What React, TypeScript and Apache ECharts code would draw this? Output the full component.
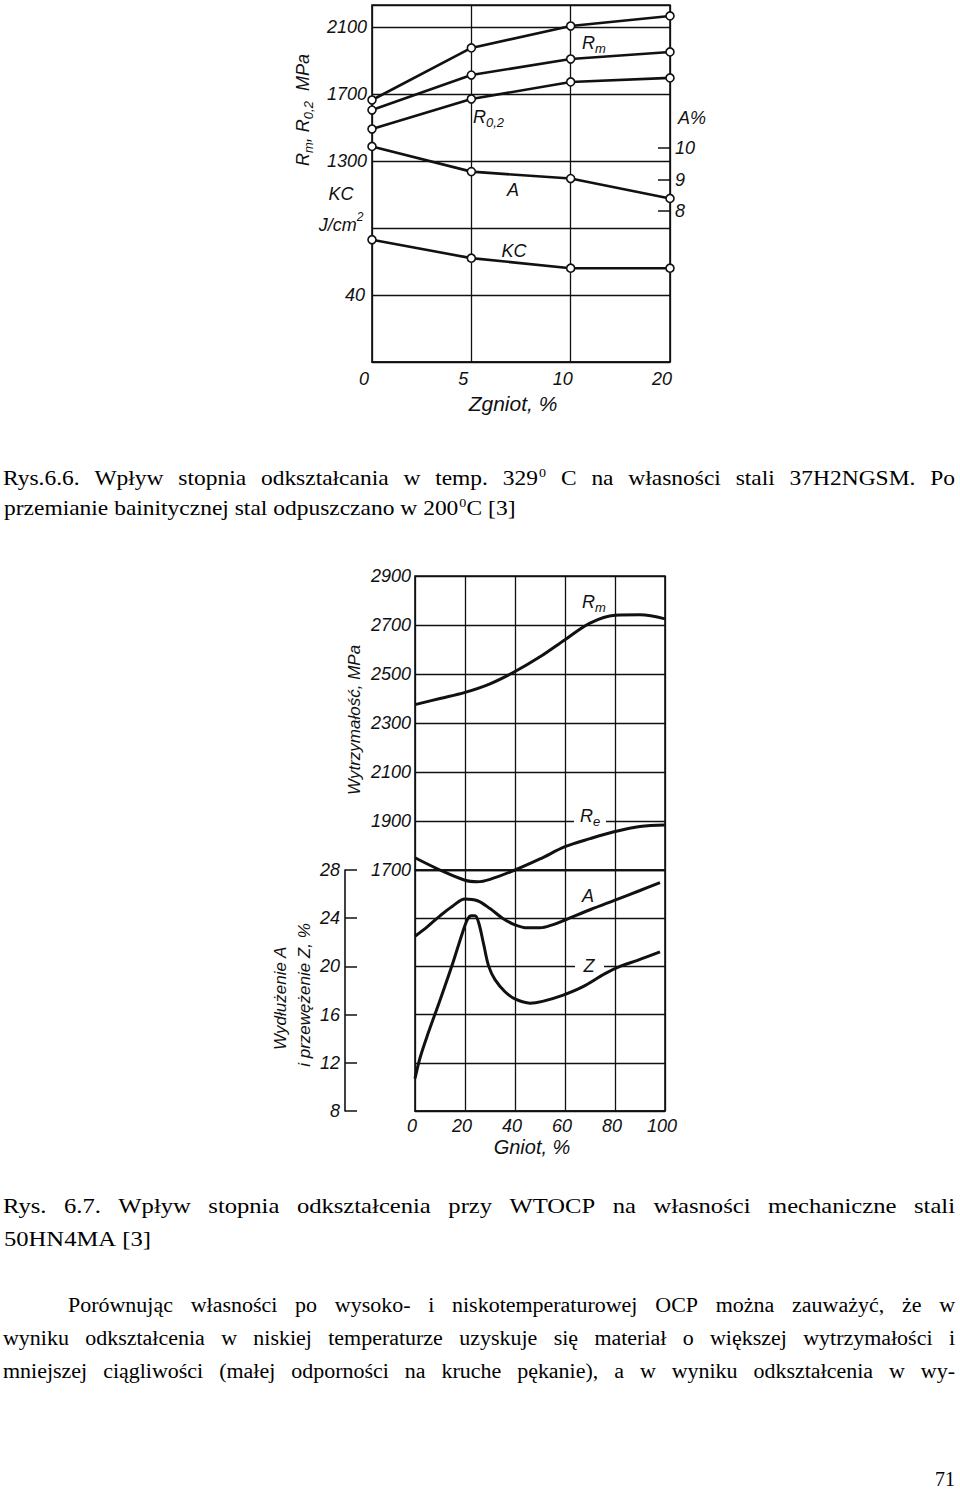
import { useEffect, useRef } from "react";
import * as echarts from "echarts";

// ---------- Rys. 6.6 (top chart) ----------
const TOP_X = ["0", "5", "10", "20"];
const TOP_RM = [1664, 1975, 2106, 2166];
const TOP_RM2 = [1604, 1813, 1909, 1951];
const TOP_R02 = [1491, 1670, 1772, 1796];
const TOP_A = [10.05, 9.25, 9.03, 8.4];
const TOP_KC = [73, 62, 56, 56];
const TOP_MPA_TICKS = [1300, 1700, 2100];
const TOP_KC_TICKS = [40];

// ---------- Rys. 6.7 (bottom chart) ----------
const BOT_RM_X = [0, 10, 20, 30, 40, 50, 60, 70, 80, 90, 100];
const BOT_RM = [2375, 2400, 2425, 2460, 2510, 2570, 2640, 2708, 2740, 2742, 2725];
const BOT_RE_X = [0, 10, 20, 25, 30, 40, 50, 60, 70, 80, 90, 100];
const BOT_RE = [1750, 1700, 1658, 1652, 1662, 1700, 1745, 1795, 1828, 1857, 1878, 1884];
const BOT_A_X = [0, 5, 10, 15, 20, 25, 30, 35, 40, 45, 50, 55, 60, 70, 80, 90, 98];
const BOT_A = [22.5, 23.3, 24.2, 25.0, 25.6, 25.45, 24.8, 24.0, 23.45, 23.2, 23.2, 23.45, 23.85, 24.7, 25.5, 26.3, 26.95];
const BOT_Z_X = [0, 2, 5, 10, 15, 19, 21, 22.5, 24, 25.5, 27.5, 29.5, 32, 36, 40, 46, 51, 59, 67, 76, 82, 89, 98];
const BOT_Z = [10.7, 12.4, 14.3, 17.2, 20.2, 22.8, 23.9, 24.2, 24.2, 23.6, 21.8, 20.0, 18.9, 17.9, 17.3, 16.95, 17.1, 17.6, 18.3, 19.4, 20.0, 20.5, 21.2];

// ---------- page text ----------
const CAPTION1 = [
  "Rys.6.6. Wpływ stopnia odkształcania w temp. 329^0 C na własności stali 37H2NGSM. Po",
  "przemianie bainitycznej stal odpuszczano w 200^0C [3]",
];
const CAPTION2 = [
  "Rys. 6.7. Wpływ stopnia odkształcenia przy WTOCP na własności mechaniczne stali",
  "50HN4MA [3]",
];
const BODY = [
  "Porównując  własności po wysoko- i niskotemperaturowej OCP można zauważyć, że w",
  "wyniku odkształcenia w niskiej temperaturze uzyskuje się materiał o większej wytrzymałości i",
  "mniejszej ciągliwości (małej odporności na kruche pękanie), a w wyniku odkształcenia w wy-",
];
const PAGE_NO = "71";

const INK = "#111";
const SANS = "Liberation Sans";
const SERIF = "Liberation Serif";

let ctx: CanvasRenderingContext2D | null = null;
function mw(t: string, font: string) {
  if (!ctx) ctx = document.createElement("canvas").getContext("2d");
  ctx!.font = font;
  return ctx!.measureText(t).width;
}

function serifText(x: number, y: number, text: string, size: number, scale: number, align = "left") {
  return {
    type: "text",
    x,
    y,
    scaleX: scale,
    z: 100,
    style: { text, fontFamily: SERIF, fontSize: size, fill: "#000", align, verticalAlign: "middle" },
  };
}

function textLine(line: string, x0: number, x1: number, base: number, size: number, scale: number, justify: boolean) {
  const font = `${size}px "${SERIF}"`;
  const supSize = Math.round(size * 0.62);
  const supFont = `${supSize}px "${SERIF}"`;
  const toks = line
    .split(" ")
    .filter((w) => w.length > 0)
    .map((w) => {
      const m = w.match(/^(.*)\^(\d)(.*)$/);
      return m ? { a: m[1], s: m[2], b: m[3] } : { a: w, s: "", b: "" };
    });
  const widths = toks.map(
    (t) => (mw(t.a, font) + (t.s ? mw(t.s, supFont) + 1 : 0) + (t.b ? mw(t.b, font) : 0)) * scale
  );
  const total = widths.reduce((p, c) => p + c, 0);
  const gap = justify && toks.length > 1 ? (x1 - x0 - total) / (toks.length - 1) : mw(" ", font) * scale;
  const els: any[] = [];
  const yMid = base - 0.34 * size;
  let x = x0;
  toks.forEach((t, i) => {
    let cx = x;
    els.push(serifText(cx, yMid, t.a, size, scale));
    cx += mw(t.a, font) * scale;
    if (t.s) {
      els.push(serifText(cx + 1, base - 0.62 * size, t.s, supSize, scale));
      cx += (mw(t.s, supFont) + 1) * scale;
    }
    if (t.b) els.push(serifText(cx, yMid, t.b, size, scale));
    x += widths[i] + gap;
  });
  return els;
}

type Piece = { t: string; size: number; dy?: number };
function run(pieces: Piece[], x: number, y: number, align: "left" | "center" = "left", rotation = 0) {
  const widths = pieces.map((p) => mw(p.t, `italic ${p.size}px "${SANS}"`));
  const total = widths.reduce((a, b) => a + b, 0);
  let cx = align === "center" ? -total / 2 : 0;
  const children = pieces.map((p, i) => {
    const e = {
      type: "text",
      x: cx,
      y: p.dy || 0,
      z: 100,
      style: {
        text: p.t,
        fontFamily: SANS,
        fontStyle: "italic",
        fontSize: p.size,
        fill: INK,
        align: "left",
        verticalAlign: "middle",
      },
    };
    cx += widths[i];
    return e;
  });
  return { type: "group", x, y, rotation, children };
}

function whiteRect(x: number, y: number, w: number, h: number) {
  return { type: "rect", z: 90, shape: { x, y, width: w, height: h }, style: { fill: "#fff" } };
}

function buildOption() {
  const lab = (extra: any = {}) => ({
    fontFamily: SANS,
    fontStyle: "italic",
    fontSize: 18,
    color: INK,
    ...extra,
  });
  const gridLine = { show: true, lineStyle: { color: INK, width: 1.3 } };
  const axisLineStyle = { color: INK, width: 1.6 };
  const plain = (v: number) => String(Math.round(v));

  const topLine = (name: string, xi: number, yi: number, data: number[]) => ({
    type: "line",
    name,
    xAxisIndex: xi,
    yAxisIndex: yi,
    data,
    symbol: "circle",
    symbolSize: 8,
    showSymbol: true,
    clip: false,
    z: 5,
    itemStyle: { color: "#fff", borderColor: INK, borderWidth: 1.6 },
    lineStyle: { color: INK, width: 2.6 },
  });
  const curve = (name: string, xi: number, yi: number, xs: number[], ys: number[]) => ({
    type: "line",
    name,
    xAxisIndex: xi,
    yAxisIndex: yi,
    data: xs.map((v, i) => [v, ys[i]]),
    smooth: 0.35,
    symbol: "none",
    clip: false,
    z: 5,
    lineStyle: { color: INK, width: 3 },
  });

  // page texts
  const s1 = 515 / mw(CAPTION1[1].replace(/\^/g, ""), `20px "${SERIF}"`);
  const s2 = 147 / mw(CAPTION2[1], `22px "${SERIF}"`);
  const s3 = 105 / mw("Porównując", `20px "${SERIF}"`);

  const texts: any[] = [
    ...textLine(CAPTION1[0], 3, 955, 485, 20, s1, true),
    ...textLine(CAPTION1[1], 4, 955, 515, 20, s1, false),
    ...textLine(CAPTION2[0], 3, 955, 1213, 22, s2, true),
    ...textLine(CAPTION2[1], 4, 955, 1246, 22, s2, false),
    ...textLine(BODY[0], 68, 955, 1312, 20, s3, true),
    ...textLine(BODY[1], 3, 955, 1345, 20, s3, true),
    ...textLine(BODY[2], 3, 955, 1378, 20, s3, true),
    serifText(955, 1486 - 0.34 * 21, PAGE_NO, 21, 0.95, "right"),
  ];

  const chartTexts: any[] = [
    // top chart
    run([{ t: "R", size: 18 }, { t: "m", size: 13, dy: 5 }], 582, 43),
    run([{ t: "R", size: 18 }, { t: "0,2", size: 13, dy: 5 }], 473, 117),
    run([{ t: "A", size: 18 }], 513, 190, "center"),
    run([{ t: "KC", size: 18 }], 514, 251, "center"),
    run([{ t: "A%", size: 18 }], 692, 118, "center"),
    run([{ t: "KC", size: 18 }], 341, 194, "center"),
    run([{ t: "J/cm", size: 18 }, { t: "2", size: 12, dy: -8 }], 341, 225, "center"),
    run(
      [
        { t: "R", size: 18 },
        { t: "m", size: 13, dy: 5 },
        { t: ", R", size: 18 },
        { t: "0,2", size: 13, dy: 5 },
        { t: "  MPa", size: 18 },
      ],
      303,
      166,
      "left",
      Math.PI / 2
    ),
    run([{ t: "Zgniot, %", size: 21 }], 513, 403, "center"),
    // bottom chart
    run([{ t: "R", size: 18 }, { t: "m", size: 13, dy: 5 }], 582, 602),
    whiteRect(574, 817, 32, 10),
    run([{ t: "R", size: 18 }, { t: "e", size: 13, dy: 5 }], 580, 816),
    run([{ t: "A", size: 18 }], 588, 896, "center"),
    whiteRect(575, 962, 29, 10),
    run([{ t: "Z", size: 18 }], 589, 966, "center"),
    run([{ t: "Wytrzymałość, MPa", size: 17 }], 354, 720, "center", Math.PI / 2),
    run([{ t: "Wydłużenie A", size: 17 }], 280, 998, "center", Math.PI / 2),
    run([{ t: "i przewężenie Z, %", size: 17 }], 304, 995, "center", Math.PI / 2),
    run([{ t: "Gniot, %", size: 20 }], 532, 1147, "center"),
  ];

  return {
    animation: false,
    backgroundColor: "#fff",
    grid: [
      { left: 372, top: 5, width: 298, height: 357, show: true, borderColor: INK, borderWidth: 1.6 },
      { left: 372, top: 148, width: 298, height: 63, show: false },
      { left: 415, top: 576, width: 250, height: 294, show: true, borderColor: INK, borderWidth: 1.6 },
      { left: 415, top: 870, width: 250, height: 241, show: true, borderColor: INK, borderWidth: 1.6 },
    ],
    xAxis: [
      {
        gridIndex: 0,
        type: "category",
        data: TOP_X,
        boundaryGap: false,
        axisLine: { show: true, lineStyle: axisLineStyle },
        axisTick: { show: false },
        axisLabel: lab({ margin: 8, padding: [0, 16, 0, 0] }),
        splitLine: gridLine,
      },
      { gridIndex: 1, type: "category", data: TOP_X, boundaryGap: false, show: false },
      {
        gridIndex: 2,
        type: "value",
        min: 0,
        max: 100,
        interval: 20,
        axisLine: { show: false },
        axisTick: { show: false },
        axisLabel: { show: false },
        splitLine: gridLine,
      },
      {
        gridIndex: 3,
        type: "value",
        min: 0,
        max: 100,
        interval: 20,
        axisLine: { show: true, onZero: false, lineStyle: axisLineStyle },
        axisTick: { show: false },
        axisLabel: lab({ margin: 6, padding: [0, 6, 0, 0], formatter: plain }),
        splitLine: gridLine,
      },
    ],
    yAxis: [
      {
        gridIndex: 0,
        type: "value",
        position: "left",
        min: 100,
        max: 2231.3,
        interval: 400,
        axisLine: { show: false },
        axisTick: { show: false },
        axisLabel: lab({
          margin: 5,
          formatter: (v: number) => (TOP_MPA_TICKS.includes(Math.round(v)) ? String(Math.round(v)) : ""),
        }),
        splitLine: gridLine,
      },
      {
        gridIndex: 0,
        type: "value",
        position: "left",
        min: 0,
        max: 213.13,
        interval: 40,
        axisLine: { show: false },
        axisTick: { show: false },
        axisLabel: lab({
          margin: 7,
          formatter: (v: number) => (TOP_KC_TICKS.includes(Math.round(v)) ? String(Math.round(v)) : ""),
        }),
        splitLine: { show: false },
      },
      {
        gridIndex: 1,
        type: "value",
        position: "right",
        min: 8,
        max: 10,
        interval: 1,
        axisLine: { show: false },
        axisTick: { show: true, inside: true, length: 12, lineStyle: { color: INK, width: 1.5 } },
        axisLabel: lab({ margin: 5, formatter: plain }),
        splitLine: { show: false },
      },
      {
        gridIndex: 2,
        type: "value",
        position: "left",
        min: 1700,
        max: 2900,
        interval: 200,
        axisLine: { show: false },
        axisTick: { show: false },
        axisLabel: lab({ margin: 4, formatter: plain }),
        splitLine: gridLine,
      },
      {
        gridIndex: 3,
        type: "value",
        position: "left",
        offset: 70,
        min: 8,
        max: 28,
        interval: 4,
        axisLine: { show: true, onZero: false, lineStyle: axisLineStyle },
        axisTick: { show: true, inside: true, length: 12, lineStyle: { color: INK, width: 1.5 } },
        axisLabel: lab({ margin: 5, formatter: plain }),
        splitLine: gridLine,
      },
    ],
    series: [
      topLine("Rm", 0, 0, TOP_RM),
      topLine("Rm (2)", 0, 0, TOP_RM2),
      topLine("R0,2", 0, 0, TOP_R02),
      topLine("A", 1, 2, TOP_A),
      topLine("KC", 0, 1, TOP_KC),
      curve("Rm", 2, 3, BOT_RM_X, BOT_RM),
      curve("Re", 2, 3, BOT_RE_X, BOT_RE),
      curve("A", 3, 4, BOT_A_X, BOT_A),
      curve("Z", 3, 4, BOT_Z_X, BOT_Z),
    ],
    graphic: { elements: [...chartTexts, ...texts] },
  };
}

export default function App() {
  const ref = useRef<HTMLDivElement>(null);
  useEffect(() => {
    const el = ref.current;
    if (!el) return;
    const chart = echarts.init(el, null, { renderer: "svg" });
    chart.setOption(buildOption() as any);
    return () => chart.dispose();
  }, []);
  return (
    <div
      ref={ref}
      style={{ position: "absolute", left: 0, top: 0, width: 960, height: 1494, background: "#fff" }}
    />
  );
}
